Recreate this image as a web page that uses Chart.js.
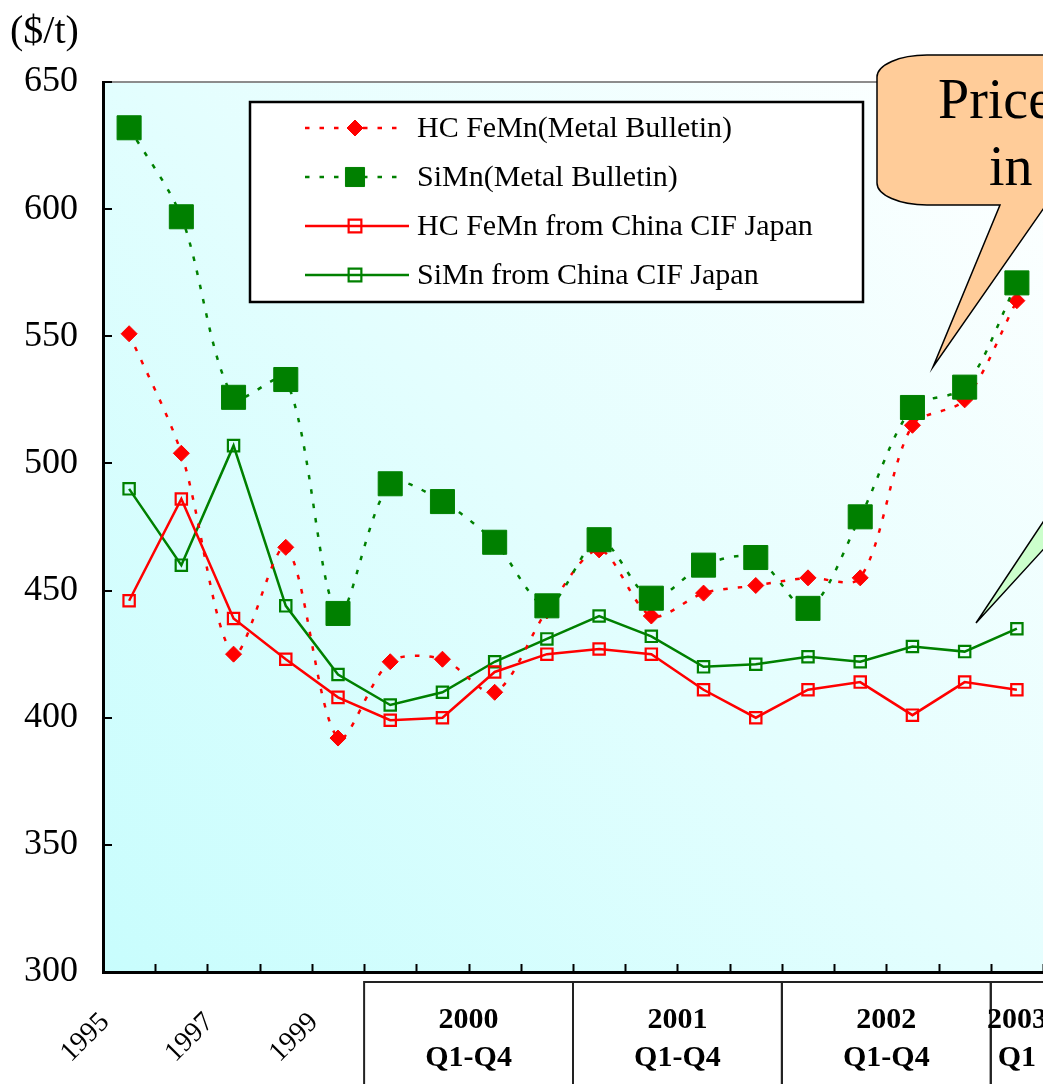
<!DOCTYPE html>
<html>
<head>
<meta charset="utf-8">
<script src="https://cdn.jsdelivr.net/npm/chart.js@4.4.1/dist/chart.umd.min.js"></script>
<style>
  html, body { margin: 0; padding: 0; background: #fff; overflow: hidden; }
  #wrap { width: 1043px; height: 1084px; position: relative; }
</style>
</head>
<body>
<div id="wrap"><canvas id="priceChart"></canvas></div>
<script>
// Categories: yearly averages 1995-1999, then quarters
const categories = ['1995', '1996', '1997', '1998', '1999',
  '2000 Q1', '2000 Q2', '2000 Q3', '2000 Q4',
  '2001 Q1', '2001 Q2', '2001 Q3', '2001 Q4',
  '2002 Q1', '2002 Q2', '2002 Q3', '2002 Q4',
  '2003 Q1'];
const yearTicks = ['1995', '1997', '1999'];

// Quarter groups shown in boxes under the axis
const groupYears = ['2000', '2001', '2002', '2003'];
const groupQuarters = ['Q1-Q4', 'Q1-Q4', 'Q1-Q4', 'Q1'];
const groupFirst = ['2000 Q1', '2001 Q1', '2002 Q1', '2003 Q1'];
const groupLast = ['2000 Q4', '2001 Q4', '2002 Q4', '2003 Q1'];

// Prices ($/t)
const feMnMB = [551, 504, 425, 467, 392, 422, 423, 410, 442, 466, 440, 449, 452, 455, 455, 515, 525, 564];
const siMnMB = [632, 597, 526, 533, 441, 492, 485, 469, 444, 470, 447, 460, 463, 443, 479, 522, 530, 571];
const feMnChina = [446, 486, 439, 423, 408, 399, 400, 418, 425, 427, 425, 411, 400, 411, 414, 401, 414, 411];
const siMnChina = [490, 460, 507, 444, 417, 405, 410, 422, 431, 440, 432, 420, 421, 424, 422, 428, 426, 435];

const yMin = 300, yMax = 650, yStep = 50;

const SERIF = "'Liberation Serif', 'Times New Roman', serif";
const RED = '#ff0000';
const GREEN = '#008000';

// white page + cyan gradient plot area + grey top border
const plotBackground = {
  id: 'plotBackground',
  beforeDraw(chart) {
    const { ctx, chartArea: a } = chart;
    ctx.save();
    ctx.fillStyle = '#fff';
    ctx.fillRect(0, 0, chart.width, chart.height);
    const g = ctx.createLinearGradient(a.left, a.bottom, a.right, a.top);
    g.addColorStop(0, '#c8fdfd');
    g.addColorStop(1, '#ffffff');
    ctx.fillStyle = g;
    ctx.fillRect(a.left, a.top, a.right - a.left, a.bottom - a.top);
    ctx.strokeStyle = '#8c8c8c';
    ctx.lineWidth = 2;
    ctx.beginPath();
    ctx.moveTo(a.left, a.top);
    ctx.lineTo(a.right, a.top);
    ctx.stroke();
    ctx.restore();
  }
};

// inward tick marks, quarter boxes, unit label
const axisDecor = {
  id: 'axisDecor',
  afterDraw(chart) {
    const { ctx, chartArea: a, scales: { x, y } } = chart;
    ctx.save();
    ctx.strokeStyle = '#000';
    ctx.lineWidth = 2;
    ctx.beginPath();
    for (let i = 1; i <= categories.length; i++) {
      const px = Math.round(x.getPixelForValue(i - 0.5)) + 0.5;
      ctx.moveTo(px, a.bottom);
      ctx.lineTo(px, a.bottom - 8);
    }
    y.ticks.forEach(t => {
      const py = Math.round(y.getPixelForValue(t.value));
      ctx.moveTo(a.left, py);
      ctx.lineTo(a.left + 9, py);
    });
    ctx.stroke();

    // boxes with year / quarter text
    const boxTop = a.bottom + 10;
    let boxW = 0;
    ctx.strokeStyle = '#222';
    ctx.lineWidth = 2;
    ctx.fillStyle = '#000';
    ctx.textAlign = 'center';
    ctx.textBaseline = 'alphabetic';
    ctx.font = 'bold 30px ' + SERIF;
    groupYears.forEach((yr, k) => {
      const i0 = categories.indexOf(groupFirst[k]);
      const i1 = categories.indexOf(groupLast[k]);
      const left = x.getPixelForValue(i0 - 0.5);
      let right = x.getPixelForValue(i1 + 0.5);
      if (k === 0) boxW = right - left;
      if (k === groupYears.length - 1) right = left + boxW;
      ctx.strokeRect(left, boxTop, right - left, chart.height - boxTop + 20);
      const cx = (x.getPixelForValue(i0) + x.getPixelForValue(i1)) / 2;
      ctx.fillText(yr, cx, a.bottom + 56);
      ctx.fillText(groupQuarters[k], cx, a.bottom + 94);
    });

    ctx.textAlign = 'left';
    ctx.font = '40px ' + SERIF;
    ctx.fillText('($/t)', 10, 43);
    ctx.restore();
  }
};

// legend box inside the plot
const boxLegend = {
  id: 'boxLegend',
  afterDatasetsDraw(chart) {
    const { ctx, chartArea: a } = chart;
    const left = a.left + 147, top = a.top + 20, w = 613, h = 200;
    ctx.save();
    ctx.fillStyle = '#fff';
    ctx.fillRect(left, top, w, h);
    ctx.strokeStyle = '#000';
    ctx.lineWidth = 2.5;
    ctx.strokeRect(left, top, w, h);
    chart.data.datasets.forEach((ds, k) => {
      const cy = top + 26 + k * 49;
      ctx.strokeStyle = ds.borderColor;
      ctx.lineWidth = ds.borderWidth;
      ctx.setLineDash(ds.borderDash || []);
      ctx.beginPath();
      ctx.moveTo(left + 55, cy);
      ctx.lineTo(left + (ds.borderDash ? 153 : 159), cy);
      ctx.stroke();
      ctx.setLineDash([]);
      ctx.fillStyle = ds.pointBackgroundColor;
      ctx.strokeStyle = ds.pointBorderColor;
      ctx.lineWidth = ds.pointBorderWidth;
      Chart.helpers.drawPoint(ctx, {
        pointStyle: ds.pointStyle,
        radius: ds.legendRadius,
        borderWidth: ds.pointBorderWidth,
        rotation: 0
      }, left + 105, cy);
      ctx.fillStyle = '#000';
      ctx.font = '30px ' + SERIF;
      ctx.textAlign = 'left';
      ctx.textBaseline = 'middle';
      ctx.fillText(ds.label, left + 167, cy + 1);
    });
    ctx.restore();
  }
};

// speech-bubble callouts cut by the right edge
const callouts = {
  id: 'callouts',
  afterDraw(chart) {
    const { ctx, chartArea: a } = chart;
    ctx.save();
    ctx.lineWidth = 1.5;
    ctx.strokeStyle = '#000';

    // orange bubble
    const L = a.right - 166, T = 55, B = 205, R = a.right + 200;
    const rx = 50, ry = 22;
    ctx.beginPath();
    ctx.moveTo(L + rx, T);
    ctx.lineTo(R, T);
    ctx.lineTo(R, B);
    ctx.lineTo(a.right + 3, B);
    ctx.lineTo(a.right - 110, 367);
    ctx.lineTo(a.right - 43, B);
    ctx.lineTo(L + rx, B);
    ctx.ellipse(L + rx, B - ry, rx, ry, 0, Math.PI / 2, Math.PI);
    ctx.lineTo(L, T + ry);
    ctx.ellipse(L + rx, T + ry, rx, ry, 0, Math.PI, Math.PI * 1.5);
    ctx.closePath();
    ctx.fillStyle = '#ffcc99';
    ctx.fill();
    ctx.stroke();
    ctx.fillStyle = '#000';
    ctx.font = '56px ' + SERIF;
    ctx.textAlign = 'left';
    ctx.textBaseline = 'alphabetic';
    ctx.fillText('Price', L + 61, 118);
    ctx.fillText('in', L + 112, 185);

    // green bubble tail
    ctx.beginPath();
    ctx.moveTo(a.right - 67, 623);
    ctx.lineTo(a.right + 40, 462);
    ctx.lineTo(a.right + 40, 506);
    ctx.closePath();
    ctx.fillStyle = '#ccffcc';
    ctx.fill();
    ctx.stroke();
    ctx.restore();
  }
};

const ctx = document.getElementById('priceChart').getContext('2d');
new Chart(ctx, {
  type: 'line',
  data: {
    labels: categories,
    datasets: [
      {
        label: 'HC FeMn(Metal Bulletin)',
        data: feMnMB,
        borderColor: RED,
        borderWidth: 2.5,
        borderDash: [4.5, 10],
        tension: 0.3,
        pointStyle: 'rectRot',
        pointRadius: 8,
        pointBorderWidth: 1,
        pointBorderColor: RED,
        pointBackgroundColor: RED,
        legendRadius: 8,
        order: 1
      },
      {
        label: 'SiMn(Metal Bulletin)',
        data: siMnMB,
        borderColor: GREEN,
        borderWidth: 2.5,
        borderDash: [4.5, 10],
        tension: 0.3,
        pointStyle: 'rect',
        pointRadius: 17,
        pointBorderWidth: 1,
        pointBorderColor: GREEN,
        pointBackgroundColor: GREEN,
        legendRadius: 13.5,
        order: 0
      },
      {
        label: 'HC FeMn from China CIF Japan',
        data: feMnChina,
        borderColor: RED,
        borderWidth: 2.5,
        tension: 0,
        pointStyle: 'rect',
        pointRadius: 8,
        pointBorderWidth: 2.2,
        pointBorderColor: RED,
        pointBackgroundColor: 'rgba(0,0,0,0)',
        legendRadius: 9,
        order: 2
      },
      {
        label: 'SiMn from China CIF Japan',
        data: siMnChina,
        borderColor: GREEN,
        borderWidth: 2.5,
        tension: 0,
        pointStyle: 'rect',
        pointRadius: 8,
        pointBorderWidth: 2.2,
        pointBorderColor: GREEN,
        pointBackgroundColor: 'rgba(0,0,0,0)',
        legendRadius: 9,
        order: 3
      }
    ]
  },
  options: {
    responsive: true,
    maintainAspectRatio: false,
    animation: false,
    layout: { autoPadding: false, padding: { top: 82, left: 0, right: 0, bottom: 0 } },
    plugins: {
      legend: { display: false },
      tooltip: { enabled: false }
    },
    scales: {
      x: {
        offset: true,
        grid: { display: false, drawTicks: false },
        border: { display: true, color: '#000', width: 3 },
        ticks: {
          autoSkip: false,
          minRotation: 45,
          maxRotation: 45,
          padding: 34,
          labelOffset: -24,
          color: '#000',
          font: { family: SERIF, size: 28 },
          callback: (v, i) => yearTicks.includes(categories[i]) ? categories[i] : ''
        },
        afterFit: (s) => {
          s.height = 112;
          s.paddingLeft = 0;
          s.paddingRight = 0;
        }
      },
      y: {
        min: yMin,
        max: yMax,
        grid: { display: false, drawTicks: false },
        border: { display: true, color: '#000', width: 3 },
        ticks: {
          stepSize: yStep,
          padding: 25,
          color: '#000',
          font: { family: SERIF, size: 36 }
        },
        afterFit: (s) => { s.width = 103; }
      }
    }
  },
  plugins: [plotBackground, axisDecor, boxLegend, callouts]
});
</script>
</body>
</html>
